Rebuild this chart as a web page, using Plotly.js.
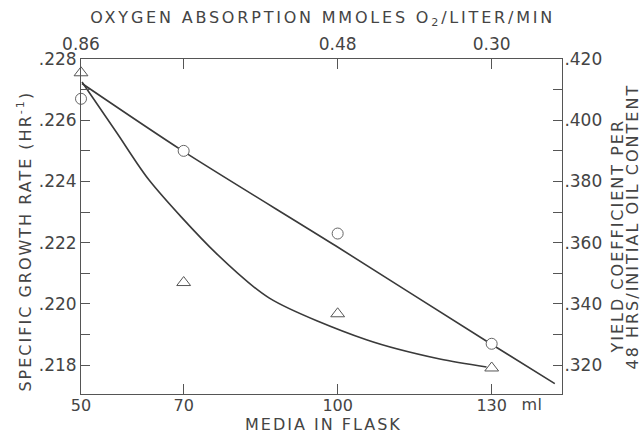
<!DOCTYPE html>
<html>
<head>
<meta charset="utf-8">
<script src="https://cdn.plot.ly/plotly-3.0.1.min.js"></script>
<style>
html,body{margin:0;padding:0;background:#fff;}
#chart{width:642px;height:433px;}
text.annotation-text{letter-spacing:2px;}
g.annotation[data-index="0"] text.annotation-text{letter-spacing:0.5px;}
g.annotation[data-index="2"] text.annotation-text{letter-spacing:2.8px;}
</style>
</head>
<body>
<div id="chart"></div>
<script>
// Media volume in flask (ml)
const mediaMl = [50, 70, 100, 130];
// Specific growth rate (HR^-1), open circles, left axis
const growthRate = [0.2267, 0.2250, 0.2223, 0.2187];
// Yield coefficient per 48 hrs / initial oil content, triangles, right axis
const yieldCoef = [0.4155, 0.3470, 0.3368, 0.3191];
// Hand-drawn fitted curves
const growthFitX = [50.2, 69.8, 99.6, 129.8, 142.3];
const growthFitY = [0.2272, 0.2250, 0.2219, 0.2187, 0.2174];
const yieldFitX = [50.2, 57.1, 63.3, 76.3, 86.7, 105.6, 119.9, 129.0];
const yieldFitY = [0.4125, 0.3956, 0.3804, 0.3566, 0.3419, 0.3283, 0.3220, 0.3194];
// Axis ticks
const bottomTickVals = [50, 70, 100, 130];
const bottomTickText = ['50', '70', '100', '130'];
const topTickText = ['0.86', '', '0.48', '0.30'];
const leftTickVals = [0.218, 0.219, 0.220, 0.221, 0.222, 0.223, 0.224, 0.225, 0.226, 0.227, 0.228];
const leftTickText = ['.218', '', '.220', '', '.222', '', '.224', '', '.226', '', '.228'];
const rightTickVals = [0.320, 0.330, 0.340, 0.350, 0.360, 0.370, 0.380, 0.390, 0.400, 0.410, 0.420];
const rightTickText = ['.320', '', '.340', '', '.360', '', '.380', '', '.400', '', '.420'];

const ink = '#3a3a3a';
const frame = '#555';
const txt = '#444';
const fnt = {family: 'DejaVu Sans', size: 17, color: txt};
const xfnt = {family: 'DejaVu Sans', size: 16, color: txt};
const tfnt = {family: 'DejaVu Sans', size: 16, color: txt};

const traces = [
  {x: growthFitX, y: growthFitY, xaxis: 'x', yaxis: 'y', mode: 'lines',
   line: {color: ink, width: 1.6, shape: 'spline', smoothing: 0.8}, hoverinfo: 'skip'},
  {x: yieldFitX, y: yieldFitY, xaxis: 'x', yaxis: 'y2', mode: 'lines',
   line: {color: ink, width: 1.6, shape: 'spline', smoothing: 0.8}, hoverinfo: 'skip'},
  {x: mediaMl, y: growthRate, xaxis: 'x', yaxis: 'y', mode: 'markers', cliponaxis: false,
   marker: {symbol: 'circle', size: 11, color: '#fff', line: {color: '#666', width: 1}}},
  {x: mediaMl, y: yieldCoef, xaxis: 'x', yaxis: 'y2', mode: 'markers', cliponaxis: false,
   marker: {symbol: 'triangle-up', size: 12, color: '#fff', line: {color: '#555', width: 1}}},
  {x: [50], y: [0.22], xaxis: 'x2', yaxis: 'y', mode: 'markers', marker: {opacity: 0}, hoverinfo: 'skip'}
];

const xr = [50, 143.7];
const axBase = {showline: true, linecolor: frame, linewidth: 1, showgrid: false, zeroline: false,
  ticks: 'inside', tickcolor: frame, tickfont: fnt, tickmode: 'array'};
const layout = {
  width: 642, height: 433,
  margin: {l: 81, r: 80, t: 59, b: 39},
  paper_bgcolor: '#fff', plot_bgcolor: '#fff',
  showlegend: false,
  font: fnt,
  xaxis: Object.assign({}, axBase, {range: xr, tickvals: bottomTickVals, ticktext: bottomTickText, ticklen: 10,
    ticklabelstandoff: -3, tickfont: xfnt}),
  xaxis2: Object.assign({}, axBase, {range: xr, overlaying: 'x', side: 'top', anchor: 'y',
    tickvals: bottomTickVals, ticktext: topTickText, ticklen: 10, ticklabelstandoff: 1}),
  yaxis: Object.assign({}, axBase, {range: [0.21706, 0.228], tickvals: leftTickVals, ticktext: leftTickText,
    ticklen: 9}),
  yaxis2: Object.assign({}, axBase, {range: [0.3106, 0.420], overlaying: 'y', side: 'right', anchor: 'x',
    tickvals: rightTickVals, ticktext: rightTickText, ticklen: 9, ticklabelstandoff: -2}),
  annotations: [
    {text: 'ml', xref: 'x', yref: 'paper', x: 137.8, y: 0, yanchor: 'top', yshift: 1,
     showarrow: false, font: xfnt},
    {text: 'MEDIA IN FLASK', xref: 'paper', yref: 'paper', x: 0.505, y: 0, yanchor: 'middle', yshift: -30,
     showarrow: false, font: tfnt},
    {text: 'OXYGEN ABSORPTION MMOLES O<sub>2</sub>/LITER/MIN', xref: 'paper', yref: 'paper', x: 0.502, y: 1,
     yanchor: 'middle', yshift: 41, showarrow: false, font: tfnt},
    {text: 'SPECIFIC GROWTH RATE (HR<sup>-1</sup>)', xref: 'paper', yref: 'paper', x: 0, y: 0.455,
     xanchor: 'center', xshift: -56, textangle: -90, showarrow: false, font: tfnt},
    {text: 'YIELD COEFFICIENT PER', xref: 'paper', yref: 'paper', x: 1, y: 0.47,
     xanchor: 'center', xshift: 56, textangle: -90, showarrow: false, font: tfnt},
    {text: '48 HRS/INITIAL OIL CONTENT', xref: 'paper', yref: 'paper', x: 1, y: 0.5,
     xanchor: 'center', xshift: 70, textangle: -90, showarrow: false, font: tfnt}
  ]
};

Plotly.newPlot('chart', traces, layout, {displayModeBar: false, staticPlot: true});
</script>
</body>
</html>
